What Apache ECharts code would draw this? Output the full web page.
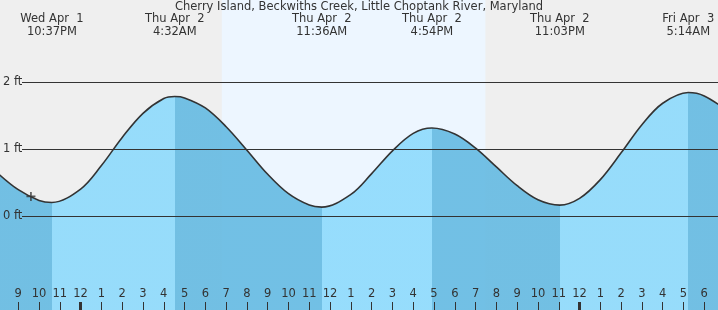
<!DOCTYPE html>
<html><head><meta charset="utf-8">
<script src="https://cdn.jsdelivr.net/npm/echarts@6/dist/echarts.min.js"></script>
<style>html,body{margin:0;padding:0;background:#efefef}#c{width:718px;height:310px}</style>
</head><body><div id="c"></div>
<script>
// ---- data (hours relative to Thu Apr 2 00:00) ----
const chartTitle = 'Cherry Island, Beckwiths Creek, Little Choptank River, Maryland';
const tideHours = [-4, -3, -2, -1.38, 0, 1, 2, 3, 4, 4.53, 5, 6, 7, 8, 9, 10, 11, 11.60, 13, 14, 15, 16, 16.90, 18, 19, 20, 21, 22, 23.05, 24, 25, 26, 27, 28, 29.23, 30, 31];
const tideFeet  = [0.65, 0.40, 0.24, 0.21, 0.41, 0.76, 1.18, 1.54, 1.76, 1.79, 1.77, 1.62, 1.34, 0.99, 0.63, 0.34, 0.17, 0.14, 0.33, 0.64, 0.98, 1.24, 1.32, 1.23, 1.02, 0.74, 0.46, 0.25, 0.17, 0.27, 0.55, 0.95, 1.37, 1.69, 1.85, 1.80, 1.60];
const eventHours = [-1.38, 4.53, 11.60, 16.90, 23.05, 29.23];
const eventDays  = ['Wed Apr  1', 'Thu Apr  2', 'Thu Apr  2', 'Thu Apr  2', 'Thu Apr  2', 'Fri Apr  3'];
const eventClock = ['10:37PM', '4:32AM', '11:36AM', '4:54PM', '11:03PM', '5:14AM'];
const hourTicks = [-3, -2, -1, 0, 1, 2, 3, 4, 5, 6, 7, 8, 9, 10, 11, 12, 13, 14, 15, 16, 17, 18, 19, 20, 21, 22, 23, 24, 25, 26, 27, 28, 29, 30];
const midnightTicks = [0, 24];
const footTicks = [0, 1, 2];
const daylight = [6.79, 19.47];
const nowPoint = [-2.39, 0.30];
const xRange = [-3.83, 30.66];
const yRange = [-1.3955, 3.2313];

// ---- styles ----
const FONT = 'DejaVu Sans';
const FS = 11.5;
const TXT = '#333';
const DARK = 'rgb(100,186,226)';
const LIGHT = 'rgb(141,218,252)';

const pieces = [];
for (let i = 0; i <= eventHours.length; i++) {
  const p = { color: i % 2 === 0 ? DARK : LIGHT };
  if (i > 0) p.gte = eventHours[i - 1];
  if (i < eventHours.length) p.lt = eventHours[i];
  pieces.push(p);
}
const hourLabel = h => { const m = ((h % 12) + 12) % 12; return String(m === 0 ? 12 : m); };
const noLine = { show: false, onZero: false };

const chart = echarts.init(document.getElementById('c'), null, { renderer: 'canvas' });
chart.setOption({
  animation: false,
  backgroundColor: '#efefef',
  title: {
    text: chartTitle, left: 'center', top: 1.5, padding: 0,
    textStyle: { fontFamily: FONT, fontSize: FS, fontWeight: 'normal', color: TXT }
  },
  grid: [
    { left: 0, right: 0, top: 0, bottom: 0 },
    { left: 22, right: 0, top: 0, bottom: 0 }
  ],
  visualMap: { type: 'piecewise', show: false, dimension: 0, seriesIndex: 1, pieces },
  xAxis: [
    { gridIndex: 0, type: 'value', min: xRange[0], max: xRange[1], position: 'bottom', z: 5,
      axisLine: noLine, splitLine: { show: false },
      axisTick: { show: true, inside: true, length: 8, customValues: hourTicks, lineStyle: { color: TXT, width: 1 } },
      axisLabel: { show: true, inside: true, margin: 10, customValues: hourTicks, formatter: hourLabel,
        fontFamily: FONT, fontSize: FS, color: TXT } },
    { gridIndex: 0, type: 'value', min: xRange[0], max: xRange[1], position: 'bottom', z: 5,
      axisLine: noLine, splitLine: { show: false }, axisLabel: { show: false },
      axisTick: { show: true, inside: true, length: 8, customValues: midnightTicks, lineStyle: { color: TXT, width: 3 } } },
    { gridIndex: 0, type: 'value', min: xRange[0], max: xRange[1], position: 'top', z: 5,
      axisLine: noLine, splitLine: { show: false }, axisTick: { show: false },
      axisLabel: { show: true, inside: true, margin: 12, customValues: eventHours,
        formatter: v => { const i = eventHours.indexOf(v); return eventDays[i] + '\n' + eventClock[i]; },
        fontFamily: FONT, fontSize: FS, lineHeight: 13.5, color: TXT, align: 'center' } },
    { gridIndex: 1, type: 'value', min: xRange[0], max: xRange[1], show: false, axisLine: noLine }
  ],
  yAxis: [
    { gridIndex: 0, type: 'value', min: yRange[0], max: yRange[1], z: 5,
      axisLine: noLine, axisTick: { show: false }, splitLine: { show: false },
      axisLabel: { show: true, inside: true, margin: 2, customValues: footTicks, formatter: v => v + ' ft',
        fontFamily: FONT, fontSize: FS, color: TXT } },
    { gridIndex: 1, type: 'value', min: yRange[0], max: yRange[1], show: false, axisLine: noLine }
  ],
  series: [
    { type: 'line', xAxisIndex: 0, yAxisIndex: 0, data: [], z: 1, silent: true,
      markArea: { silent: true, itemStyle: { color: '#edf6ff' },
        data: [[{ xAxis: daylight[0] }, { xAxis: daylight[1] }]] } },
    { type: 'line', xAxisIndex: 0, yAxisIndex: 0, z: 3, silent: true,
      data: tideHours.map((t, i) => [t, tideFeet[i]]),
      smooth: 0.35, symbol: 'none', showSymbol: false,
      lineStyle: { color: '#333', width: 1.6 },
      areaStyle: { opacity: 0.9, origin: 'start' } },
    { type: 'line', xAxisIndex: 3, yAxisIndex: 1, data: [], z: 2, silent: true,
      markLine: { silent: true, symbol: 'none', label: { show: false },
        lineStyle: { color: '#333', width: 1, type: 'solid' },
        data: footTicks.map(v => ({ yAxis: v })) } },
    { type: 'scatter', xAxisIndex: 0, yAxisIndex: 0, z: 6, silent: true,
      data: [nowPoint], symbol: 'path://M0,3.25H8V4.75H0Z M3.25,0H4.75V8H3.25Z', symbolSize: 9,
      itemStyle: { color: '#333' } }
  ]
});
</script></body></html>
